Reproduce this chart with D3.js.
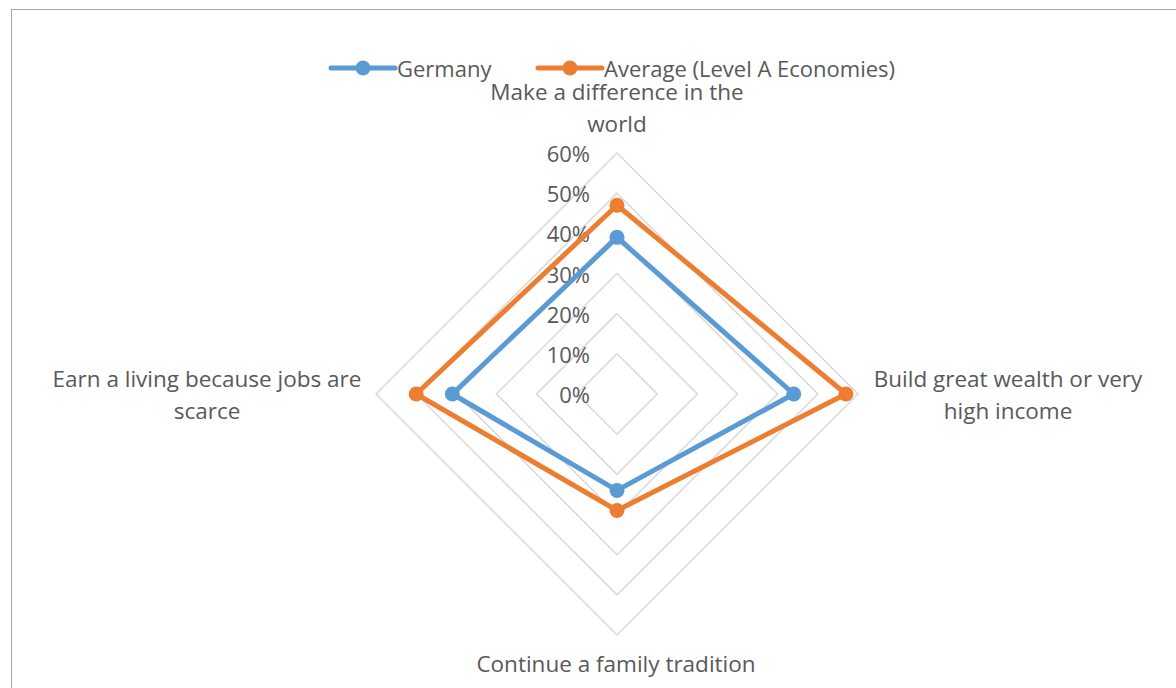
<!DOCTYPE html>
<html>
<head>
<meta charset="utf-8">
<script src="https://cdn.jsdelivr.net/npm/d3@7"></script>
<style>
  html, body { margin: 0; padding: 0; background: #fff; }
  svg { display: block; }
  text { font-family: "Open Sans", "Liberation Sans", sans-serif; fill: #595959; }
</style>
</head>
<body>
<svg id="chart" width="1176" height="688"></svg>
<script>
// Motivations for starting a business (share of respondents)
const categories = [
  ["Make a difference in the", "world"],
  ["Build great wealth or very", "high income"],
  ["Continue a family tradition"],
  ["Earn a living because jobs are", "scarce"]
];
const seriesNames = ["Germany", "Average (Level A Economies)"];
const germany = [0.39, 0.44, 0.24, 0.41];
const average = [0.47, 0.57, 0.29, 0.50];
const ticks = [0, 0.1, 0.2, 0.3, 0.4, 0.5, 0.6];
const colors = ["#5B9BD5", "#ED7D31"];

const svg = d3.select("#chart");
const W = 1176, H = 688;
const cx = 617, cy = 394, R = 241;

// frame
svg.append("rect").attr("x", 11.5).attr("y", 9.5).attr("width", W).attr("height", H)
  .attr("fill", "#fff").attr("stroke", "#a6a6a6").attr("stroke-width", 1);

const r = d3.scaleLinear().domain([0, 0.6]).range([0, R]);
const angle = i => (i / categories.length) * 2 * Math.PI; // clockwise from top
const pt = (i, v) => [cx + r(v) * Math.sin(angle(i)), cy - r(v) * Math.cos(angle(i))];

// grid rings
const g = svg.append("g");
ticks.forEach(t => {
  g.append("path")
    .attr("d", d3.line()(categories.map((c, i) => pt(i, t))) + "Z")
    .attr("fill", "none").attr("stroke", "#d9d9d9").attr("stroke-width", 1.5);
});

// tick labels
ticks.forEach(t => {
  svg.append("text")
    .attr("x", cx - 27).attr("y", cy - r(t))
    .attr("text-anchor", "end").attr("dominant-baseline", "central")
    .attr("font-size", 22)
    .text(d3.format(".0%")(t));
});

// series
const data = [germany, average];
data.forEach((vals, s) => {
  const pts = vals.map((v, i) => pt(i, v));
  svg.append("path")
    .attr("d", d3.line()(pts) + "Z")
    .attr("fill", "none").attr("stroke", colors[s]).attr("stroke-width", 5)
    .attr("stroke-linejoin", "round");
  svg.selectAll(null).data(pts).enter().append("circle")
    .attr("cx", d => d[0]).attr("cy", d => d[1]).attr("r", 7.5)
    .attr("fill", colors[s]);
});

// category labels
const labelPos = [
  { x: 617, y: 91 },
  { x: 1008, y: 378 },
  { x: 616, y: 663 },
  { x: 207, y: 378 }
];
categories.forEach((lines, i) => {
  const p = labelPos[i];
  const t = svg.append("text")
    .attr("x", p.x).attr("y", p.y)
    .attr("text-anchor", "middle").attr("dominant-baseline", "central")
    .attr("font-size", 22.5);
  lines.forEach((ln, k) => {
    t.append("tspan").attr("x", p.x).attr("dy", k === 0 ? 0 : 32).text(ln);
  });
});

// legend
const legendItems = [
  { x: 331, name: seriesNames[0], color: colors[0] },
  { x: 538, name: seriesNames[1], color: colors[1] }
];
legendItems.forEach(d => {
  const lg = svg.append("g").attr("transform", `translate(${d.x},68)`);
  lg.append("line").attr("x1", 0).attr("x2", 64).attr("y1", 0).attr("y2", 0)
    .attr("stroke", d.color).attr("stroke-width", 5).attr("stroke-linecap", "round");
  lg.append("circle").attr("cx", 32).attr("cy", 0).attr("r", 7.5).attr("fill", d.color);
  lg.append("text").attr("x", 66).attr("y", 0)
    .attr("dominant-baseline", "central").attr("font-size", 22)
    .text(d.name);
});
</script>
</body>
</html>
